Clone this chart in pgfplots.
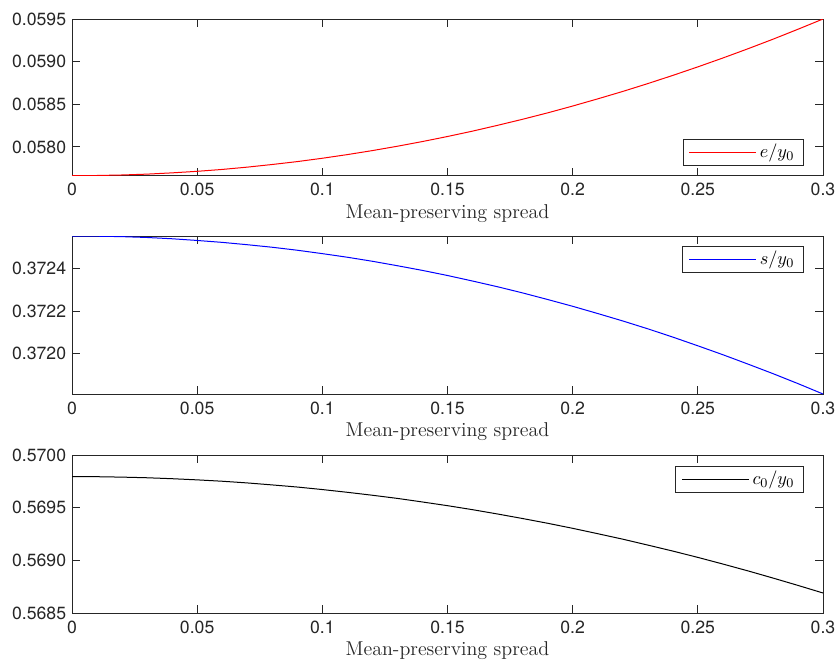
\documentclass[border=0pt]{standalone}
\usepackage{pgfplots}
\pgfplotsset{compat=1.18}
\usepackage{fontspec}
\setsansfont{TeX Gyre Heros}
\definecolor{axgray}{RGB}{38,38,38}
\definecolor{mred}{RGB}{255,0,0}
\definecolor{mblue}{RGB}{0,0,255}
\definecolor{mblack}{RGB}{0,0,0}
\pgfplotsset{
  mstyle/.style={
    scale only axis,
    width=450.6pt,
    xmin=0, xmax=0.3,
    xtick={0,0.05,0.1,0.15,0.2,0.25,0.3},
    xticklabels={0,0.05,0.1,0.15,0.2,0.25,0.3},
    scaled y ticks=false,
    tick align=inside,
    tick pos=both,
    major tick length=4.8pt,
    axis line style={draw=axgray, line width=0.6pt},
    every tick/.style={draw=axgray, line width=0.6pt},
    /pgf/number format/assume math mode=true,
    ticklabel style={font=\sffamily\fontsize{10.6}{12}\selectfont, text=axgray},
    xticklabel style={yshift=-1pt},
    yticklabel style={/pgf/number format/fixed, /pgf/number format/fixed zerofill, /pgf/number format/precision=4},
    xlabel={Mean-preserving spread},
    xlabel style={font=\fontsize{12}{14}\selectfont, text=axgray, yshift=2pt},
    legend cell align=left,
    legend style={line width=0.6pt, fill=white,
      font=\fontsize{11}{13}\selectfont, inner xsep=3.5pt, inner ysep=1pt},
    every axis legend/.append style={draw=axgray},
  },
}
\begin{document}
\begin{tikzpicture}[x=1pt,y=1pt]
\useasboundingbox (0,0) rectangle (502.2,397.2);
% top
\begin{axis}[mstyle, at={(43.2pt,291.8pt)}, anchor=south west, height=94.0pt,
  ymin=0.057664, ymax=0.0595,
  ytick={0.058,0.0585,0.059,0.0595},
  legend image code/.code={\draw[draw=mred, line width=0.6pt] (0pt,0pt) -- (40pt,0pt);},
  legend style={at={(0.9747,0.062)}, anchor=south east}]
\addplot[draw=mred, line width=0.6pt] coordinates {
(0,0.057664) (0.01,0.057666) (0.02,0.057672) (0.03,0.057682) (0.04,0.057697)
(0.05,0.057715) (0.06,0.057737) (0.07,0.057764) (0.08,0.057795) (0.09,0.057829)
(0.10,0.057868) (0.11,0.057911) (0.12,0.057958) (0.13,0.058009) (0.14,0.058064)
(0.15,0.058123) (0.16,0.058186) (0.17,0.058254) (0.18,0.058325) (0.19,0.058400)
(0.20,0.058480) (0.21,0.058564) (0.22,0.058651) (0.23,0.058743) (0.24,0.058839)
(0.25,0.058939) (0.26,0.059043) (0.27,0.059151) (0.28,0.059263) (0.29,0.059380)
(0.30,0.059500)};
\addlegendentry{$e/y_0$}
\end{axis}
% middle
\begin{axis}[mstyle, at={(43.2pt,160.8pt)}, anchor=south west, height=94.8pt,
  ymin=0.37181, ymax=0.372554,
  ytick={0.372,0.3722,0.3724},
  legend image code/.code={\draw[draw=mblue, line width=0.6pt] (0pt,0pt) -- (40pt,0pt);},
  legend style={at={(0.9747,0.939)}, anchor=north east}]
\addplot[draw=mblue, line width=0.6pt] coordinates {
(0,0.372554) (0.01,0.372553) (0.02,0.372551) (0.03,0.372547) (0.04,0.372541)
(0.05,0.372533) (0.06,0.372524) (0.07,0.372513) (0.08,0.372501) (0.09,0.372487)
(0.10,0.372471) (0.11,0.372454) (0.12,0.372435) (0.13,0.372414) (0.14,0.372392)
(0.15,0.372368) (0.16,0.372342) (0.17,0.372315) (0.18,0.372286) (0.19,0.372255)
(0.20,0.372223) (0.21,0.372189) (0.22,0.372154) (0.23,0.372117) (0.24,0.372078)
(0.25,0.372037) (0.26,0.371995) (0.27,0.371951) (0.28,0.371906) (0.29,0.371859)
(0.30,0.371810)};
\addlegendentry{$s/y_0$}
\end{axis}
% bottom
\begin{axis}[mstyle, at={(43.2pt,29.4pt)}, anchor=south west, height=94.8pt,
  ymin=0.5685, ymax=0.57,
  ytick={0.5685,0.569,0.5695,0.57},
  legend image code/.code={\draw[draw=mblack, line width=0.6pt] (0pt,0pt) -- (40pt,0pt);},
  legend style={at={(0.9747,0.932)}, anchor=north east}]
\addplot[draw=mblack, line width=0.6pt] coordinates {
(0,0.569795) (0.01,0.569794) (0.02,0.569790) (0.03,0.569784) (0.04,0.569775)
(0.05,0.569764) (0.06,0.569751) (0.07,0.569735) (0.08,0.569716) (0.09,0.569696)
(0.10,0.569672) (0.11,0.569646) (0.12,0.569618) (0.13,0.569588) (0.14,0.569554)
(0.15,0.569519) (0.16,0.569481) (0.17,0.569440) (0.18,0.569397) (0.19,0.569352)
(0.20,0.569304) (0.21,0.569253) (0.22,0.569201) (0.23,0.569145) (0.24,0.569088)
(0.25,0.569028) (0.26,0.568965) (0.27,0.568900) (0.28,0.568832) (0.29,0.568762)
(0.30,0.568690)};
\addlegendentry{$c_0/y_0$}
\end{axis}
\end{tikzpicture}
\end{document}
